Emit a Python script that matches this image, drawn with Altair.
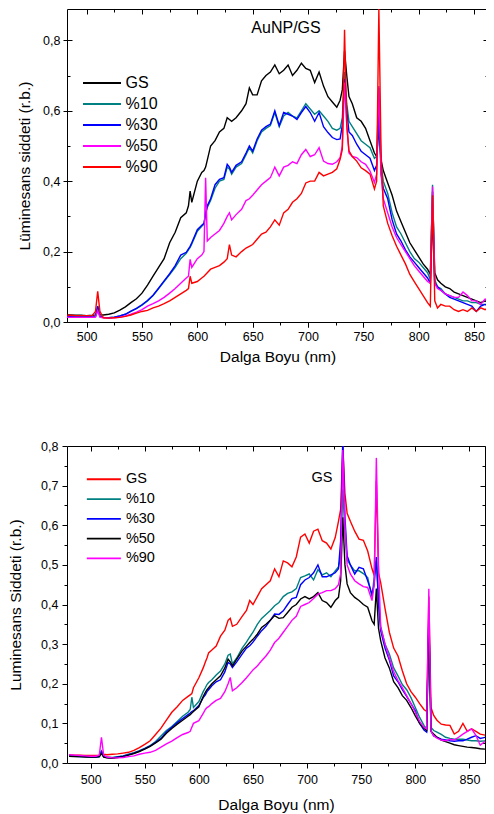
import altair as alt
import pandas as pd

# ---------------- data ----------------
WL = [
    480, 485, 490, 495, 500, 505, 508, 510, 512, 515,
    520, 525, 530, 535, 540, 545, 550, 555, 560, 565,
    570, 575, 580, 585, 590, 592, 593.5, 595, 600, 604,
    606, 607.5, 609, 612, 616, 620, 624, 627, 629, 631,
    635, 640, 644, 647, 650, 654, 658, 662, 666, 670,
    674, 678, 682, 686, 690, 694, 698, 702, 706, 710,
    714, 718, 722, 726, 729, 731, 733, 735, 737, 740,
    744, 748, 752, 756, 760, 762, 764, 766, 768, 772,
    776, 780, 784, 788, 792, 796, 800, 804, 808, 810.5,
    812.5, 814.5, 817, 820, 824, 828, 832, 836, 840, 844,
    848, 852, 856, 860, 865, 870,
]

SERIES = ["GS", "%10", "%30", "%50", "%90"]
TOP_COLORS = ["#000000", "#008080", "#0000ff", "#ff00ff", "#ff0000"]
BOT_COLORS = ["#ff0000", "#008080", "#0000ff", "#000000", "#ff00ff"]

TOP_NOTE = "AuNP/GS"
BOT_NOTE = "GS"
X_TITLE = "Dalga Boyu (nm)"
TOP_Y_TITLE = "Lüminesans siddeti (r.b.)"
BOT_Y_TITLE = "Luminesans Siddeti (r.b.)"

X_MAJOR = [500, 550, 600, 650, 700, 750, 800, 850]
X_MINOR = [525, 575, 625, 675, 725, 775, 825]
TOP_Y_MAJOR = [0.0, 0.2, 0.4, 0.6, 0.8]
TOP_Y_MINOR = [0.1, 0.3, 0.5, 0.7]
BOT_Y_MAJOR = [0.0, 0.1, 0.2, 0.3, 0.4, 0.5, 0.6, 0.7, 0.8]
BOT_Y_MINOR = [0.05, 0.15, 0.25, 0.35, 0.45, 0.55, 0.65, 0.75]

# top panel (AuNP/GS)
TOP_GS = [
    .020, .020, .019, .019, .018, .019, .020, .030, .021, .020,
    .022, .026, .034, .043, .055, .066, .082, .105, .130, .155,
    .180, .225, .255, .296, .310, .330, .372, .340, .400, .425,
    .430, .440, .460, .500, .515, .540, .550, .580, .575, .570,
    .580, .600, .620, .665, .645, .645, .685, .700, .710, .730,
    .705, .715, .730, .700, .715, .735, .720, .715, .680, .710,
    .670, .640, .625, .610, .630, .660, .770, .700, .640, .620,
    .580, .570, .550, .515, .480, .470, .550, .460, .430, .395,
    .360, .315, .285, .255, .225, .205, .185, .165, .150, .135,
    .370, .140, .120, .110, .100, .095, .085, .080, .075, .070,
    .065, .060, .055, .060, .050, .045,
]
TOP_10 = [
    .015, .015, .014, .014, .014, .014, .016, .045, .016, .013,
    .012, .014, .017, .022, .030, .038, .048, .060, .075, .095,
    .115, .135, .155, .180, .195, .205, .212, .222, .258, .272,
    .278, .305, .325, .345, .380, .400, .405, .440, .435, .420,
    .440, .450, .475, .495, .480, .515, .540, .550, .558, .595,
    .555, .585, .595, .585, .580, .600, .620, .605, .590, .600,
    .585, .570, .550, .545, .550, .580, .710, .620, .570, .555,
    .535, .515, .505, .495, .465, .470, .665, .450, .400, .365,
    .310, .270, .250, .225, .200, .180, .170, .155, .140, .120,
    .390, .120, .100, .095, .080, .075, .070, .065, .060, .060,
    .055, .055, .050, .050, .045, .035,
]
TOP_30 = [
    .015, .015, .014, .014, .014, .014, .016, .045, .016, .013,
    .012, .014, .017, .022, .031, .039, .049, .061, .076, .096,
    .117, .137, .160, .190, .198, .208, .215, .225, .262, .275,
    .280, .310, .330, .350, .390, .405, .410, .448, .440, .425,
    .445, .455, .480, .500, .485, .520, .545, .555, .562, .600,
    .558, .595, .590, .585, .575, .595, .612, .595, .570, .595,
    .555, .538, .524, .518, .520, .560, .690, .600, .540, .530,
    .505, .485, .475, .465, .430, .445, .595, .420, .380, .350,
    .290, .250, .230, .205, .185, .170, .155, .140, .125, .110,
    .300, .110, .100, .090, .080, .070, .065, .060, .055, .050,
    .045, .030, .045, .050, .045, .040,
]
TOP_50 = [
    .014, .013, .013, .013, .013, .013, .014, .032, .014, .012,
    .011, .012, .014, .017, .022, .028, .035, .045, .052, .060,
    .070, .082, .095, .110, .125, .130, .178, .155, .180, .190,
    .200, .410, .230, .240, .250, .260, .280, .300, .310, .290,
    .305, .320, .345, .350, .360, .375, .390, .400, .410, .440,
    .415, .440, .445, .455, .450, .475, .490, .470, .475, .495,
    .457, .450, .448, .455, .467, .500, .680, .560, .480, .470,
    .467, .455, .448, .429, .396, .420, .670, .420, .350, .310,
    .270, .240, .220, .200, .180, .160, .145, .130, .115, .110,
    .385, .110, .095, .090, .080, .075, .070, .070, .085, .075,
    .060, .060, .050, .065, .050, .045,
]
TOP_90 = [
    .020, .019, .018, .018, .018, .018, .030, .087, .030, .012,
    .011, .012, .013, .016, .020, .025, .030, .033, .040, .045,
    .052, .060, .070, .080, .090, .095, .130, .110, .115, .125,
    .130, .135, .140, .150, .155, .160, .170, .180, .220, .190,
    .185, .200, .210, .215, .220, .235, .250, .255, .270, .290,
    .275, .310, .320, .340, .350, .365, .395, .400, .400, .425,
    .415, .420, .425, .435, .462, .490, .830, .560, .486, .470,
    .457, .438, .430, .420, .378, .400, .890, .480, .330, .280,
    .245, .215, .190, .165, .135, .115, .095, .075, .055, .045,
    .360, .060, .040, .050, .045, .045, .035, .030, .035, .030,
    .040, .030, .040, .035, .045, .040,
]

# bottom panel (GS)
BOT_GS = [
    .021, .020, .020, .019, .019, .019, .020, .030, .022, .021,
    .022, .023, .025, .027, .032, .039, .047, .056, .072, .088,
    .108, .128, .142, .158, .168, .172, .175, .190, .215, .240,
    .255, .265, .278, .285, .295, .320, .335, .360, .365, .345,
    .350, .370, .385, .410, .400, .420, .440, .450, .460, .490,
    .470, .510, .505, .495, .520, .570, .578, .555, .585, .590,
    .561, .555, .540, .569, .610, .640, .800, .680, .630, .610,
    .585, .565, .562, .535, .490, .473, .712, .480, .455, .390,
    .330, .290, .270, .233, .200, .180, .166, .150, .135, .130,
    .420, .140, .120, .108, .098, .096, .095, .073, .080, .100,
    .080, .086, .080, .073, .070, .095,
]
BOT_10 = [
    .018, .017, .016, .016, .015, .015, .016, .030, .017, .015,
    .014, .016, .018, .022, .026, .031, .037, .044, .054, .068,
    .082, .092, .105, .118, .128, .135, .166, .140, .155, .180,
    .190, .198, .203, .210, .222, .232, .250, .272, .275, .250,
    .265, .290, .305, .318, .330, .350, .365, .375, .385, .397,
    .405, .420, .428, .432, .440, .468, .472, .477, .462, .488,
    .475, .480, .470, .485, .495, .520, .690, .580, .512, .500,
    .485, .485, .478, .468, .418, .470, .510, .420, .345, .300,
    .275, .240, .220, .198, .185, .165, .140, .115, .095, .086,
    .380, .090, .082, .078, .072, .065, .062, .060, .060, .060,
    .058, .056, .056, .055, .056, .055,
]
BOT_30 = [
    .018, .017, .016, .016, .015, .015, .016, .028, .016, .014,
    .013, .015, .017, .021, .025, .030, .036, .043, .052, .062,
    .078, .090, .102, .112, .122, .126, .130, .132, .145, .165,
    .172, .180, .185, .195, .205, .210, .230, .254, .250, .241,
    .255, .275, .290, .296, .305, .320, .334, .345, .360, .376,
    .375, .384, .400, .415, .418, .450, .462, .468, .480, .500,
    .470, .470, .475, .480, .490, .560, .820, .620, .523, .500,
    .477, .494, .490, .460, .426, .450, .520, .400, .334, .290,
    .260, .220, .205, .185, .168, .150, .132, .100, .083, .078,
    .370, .080, .068, .065, .060, .058, .056, .055, .056, .056,
    .060, .065, .069, .062, .065, .060,
]
BOT_50 = [
    .017, .016, .016, .015, .015, .015, .016, .024, .015, .013,
    .012, .014, .016, .020, .024, .029, .035, .042, .051, .060,
    .075, .087, .098, .108, .118, .122, .126, .130, .142, .168,
    .178, .185, .190, .200, .210, .220, .240, .262, .255, .245,
    .262, .283, .295, .304, .312, .325, .342, .350, .360, .372,
    .365, .367, .380, .393, .400, .414, .420, .414, .420, .430,
    .410, .405, .393, .410, .418, .460, .620, .500, .452, .430,
    .418, .410, .400, .393, .359, .350, .440, .340, .309, .265,
    .240, .205, .190, .170, .158, .140, .119, .100, .088, .082,
    .360, .080, .073, .065, .058, .054, .050, .046, .044, .042,
    .040, .039, .038, .036, .035, .035,
]
BOT_90 = [
    .021, .020, .019, .018, .017, .017, .020, .065, .020, .015,
    .013, .013, .014, .016, .018, .022, .025, .027, .032, .040,
    .048, .055, .064, .072, .077, .080, .090, .100, .107, .125,
    .135, .140, .142, .150, .158, .163, .180, .200, .216, .182,
    .190, .203, .215, .225, .235, .245, .258, .270, .285, .304,
    .315, .330, .345, .360, .370, .395, .400, .405, .415, .426,
    .430, .435, .435, .440, .450, .477, .790, .600, .500, .477,
    .460, .452, .445, .443, .410, .450, .770, .500, .342, .300,
    .265, .230, .208, .190, .170, .150, .128, .105, .090, .086,
    .440, .080, .069, .063, .058, .056, .060, .058, .065, .073,
    .080, .086, .070, .045, .056, .050,
]

TOP_DATA = [TOP_GS, TOP_10, TOP_30, TOP_50, TOP_90]
BOT_DATA = [BOT_GS, BOT_10, BOT_30, BOT_50, BOT_90]


def frame(series_values):
    rows = []
    for name, vals in zip(SERIES, series_values):
        for w, v in zip(WL, vals):
            rows.append({"wl": w, "v": v, "series": name})
    return pd.DataFrame(rows)


FONT = "Liberation Sans"
LABEL_EXPR = "replace(format(datum.value, '.1f'), '.', ',')"


def tick_axis(orient, values, size, offset):
    return alt.Axis(orient=orient, values=values, tickSize=size, offset=offset,
                    labels=False, domain=False, grid=False, title=None,
                    ticks=True, tickColor="black", tickWidth=1)


def panel(df, colors, xs, ys, x_main, y_main, extra_axes, legend, note, note_xy,
          note_size, width, height):
    cs = alt.Scale(domain=SERIES, range=colors)
    layers = []
    for i, name in enumerate(SERIES):
        layers.append(
            alt.Chart(df).transform_filter(alt.datum.series == name)
            .mark_line(strokeWidth=1.4, clip=True)
            .encode(
                x=alt.X("wl:Q", scale=xs, axis=x_main if i == 0 else None),
                y=alt.Y("v:Q", scale=ys, axis=y_main if i == 0 else None),
                color=alt.Color("series:N", scale=cs, legend=legend if i == 0 else None),
            )
        )
    stub = df.iloc[:1]
    for xa, ya in extra_axes:
        layers.append(
            alt.Chart(stub).mark_point(opacity=0, size=1).encode(
                x=alt.X("wl:Q", scale=xs, axis=xa),
                y=alt.Y("v:Q", scale=ys, axis=ya),
            )
        )
    layers.append(
        alt.Chart(pd.DataFrame({"t": [note]}))
        .mark_text(font=FONT, fontSize=note_size, color="black", align="center",
                   baseline="middle")
        .encode(text="t:N", x=alt.value(note_xy[0]), y=alt.value(note_xy[1]))
    )
    return (alt.layer(*layers)
            .resolve_axis(x="independent", y="independent")
            .properties(width=width, height=height))


# ---------------- top panel ----------------
TOP_W, TOP_H = 421, 313
top_xs = alt.Scale(domain=[482.26, 862.6], nice=False, zero=False)
top_ys = alt.Scale(domain=[0, 0.889], nice=False, zero=False)
top_x_main = alt.Axis(orient="bottom", values=X_MAJOR, tickSize=5, labelPadding=3,
                      format="d", title=X_TITLE, titlePadding=6.8, domain=False,
                      grid=False, labelFlush=False, tickColor="black")
top_y_main = alt.Axis(orient="left", values=TOP_Y_MAJOR, tickSize=4, labelPadding=3,
                      labelExpr=LABEL_EXPR, title=TOP_Y_TITLE, titlePadding=10.2,
                      domain=False, grid=False, labelFlush=False, tickColor="black")
top_extra = [
    (tick_axis("bottom", X_MINOR, 3, 0), tick_axis("left", TOP_Y_MAJOR, 5, -5)),
    (tick_axis("bottom", X_MAJOR, 5, -TOP_H), tick_axis("left", TOP_Y_MINOR, 3, -3)),
    (tick_axis("bottom", X_MINOR, 3, -TOP_H), tick_axis("left", TOP_Y_MAJOR, 5, -TOP_W)),
    (tick_axis("bottom", X_MAJOR, 5, 0), tick_axis("left", TOP_Y_MINOR, 3, -TOP_W)),
]
top_legend = alt.Legend(orient="none", legendX=27, legendY=66, title=None,
                        symbolType="M-6.33,0H6.33", symbolSize=36, symbolStrokeWidth=2,
                        labelFontSize=16, labelOffset=15.6, rowPadding=5, padding=0,
                        labelFont=FONT, labelColor="black")
top = panel(frame(TOP_DATA), TOP_COLORS, top_xs, top_ys, top_x_main, top_y_main,
            top_extra, top_legend, TOP_NOTE, (219, 19), 16, TOP_W, TOP_H)

# ---------------- bottom panel ----------------
BOT_W, BOT_H = 418, 317
bot_xs = alt.Scale(domain=[478.15, 864.4], nice=False, zero=False)
bot_ys = alt.Scale(domain=[0, 0.8], nice=False, zero=False)
bot_x_main = alt.Axis(orient="bottom", values=X_MAJOR, tickSize=5, labelPadding=5,
                      format="d", title=X_TITLE, titlePadding=12, domain=False,
                      grid=False, labelFlush=False, tickColor="black")
bot_y_main = alt.Axis(orient="left", values=BOT_Y_MAJOR, tickSize=5, labelPadding=4,
                      labelExpr=LABEL_EXPR, title=BOT_Y_TITLE, titlePadding=17,
                      domain=False, grid=False, labelFlush=False, tickColor="black")
bot_extra = [
    (tick_axis("bottom", X_MINOR, 3, 0), tick_axis("left", BOT_Y_MINOR, 3, 0)),
    (tick_axis("bottom", X_MAJOR, 5, -BOT_H), tick_axis("left", BOT_Y_MAJOR, 5, -BOT_W)),
    (tick_axis("bottom", X_MINOR, 3, -BOT_H), tick_axis("left", BOT_Y_MINOR, 3, -BOT_W)),
]
bot_legend = alt.Legend(orient="none", legendX=29.6, legendY=26, title=None,
                        symbolType="M-5.67,0H5.67", symbolSize=36, symbolStrokeWidth=1.8,
                        labelFontSize=14.5, labelOffset=14.8, rowPadding=4.8, padding=0,
                        labelFont=FONT, labelColor="black")
bottom = panel(frame(BOT_DATA), BOT_COLORS, bot_xs, bot_ys, bot_x_main, bot_y_main,
               bot_extra, bot_legend, BOT_NOTE, (255, 32), 14.5, BOT_W, BOT_H)

chart = (
    alt.vconcat(top, bottom, spacing=124, bounds="flush")
    .resolve_scale(color="independent")
    .properties(padding={"left": 0, "top": 0, "right": -3, "bottom": 0})
    .configure(font=FONT)
    .configure_view(stroke="black", strokeWidth=1)
    .configure_axis(labelFont=FONT, titleFont=FONT, labelColor="black",
                    titleColor="black", labelFontSize=12.5, titleFontSize=15.5,
                    titleFontWeight="normal")
)

chart.save("out.html", embed_options={"renderer": "svg", "actions": False})
